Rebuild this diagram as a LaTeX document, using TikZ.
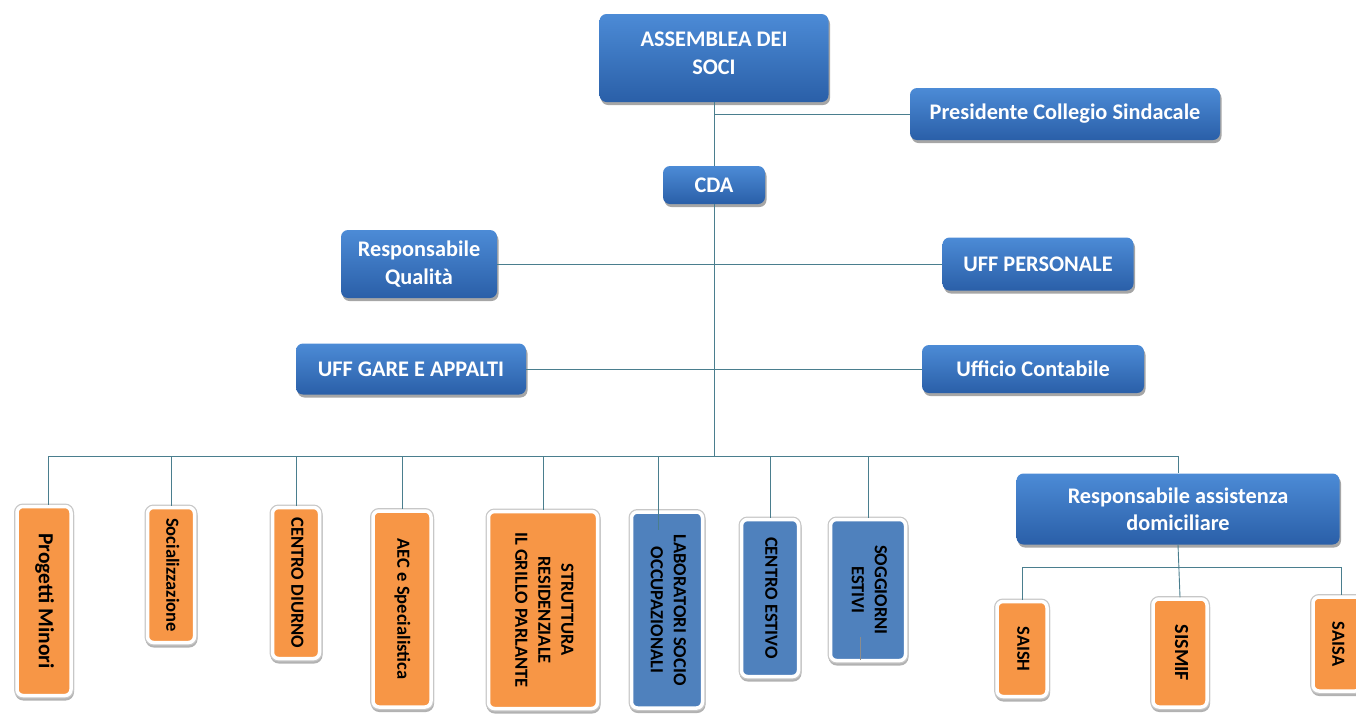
\documentclass[tikz,border=0pt]{standalone}
\usepackage{fontspec}
\usepackage{graphicx}
\setmainfont{Carlito}
\usetikzlibrary{shadows}
\definecolor{linec}{HTML}{4A7E8E}
\definecolor{btop}{HTML}{4C8BD6}
\definecolor{bbot}{HTML}{2A5FA8}
\definecolor{orangebox}{HTML}{F79646}
\definecolor{flatblue}{HTML}{4F81BD}
\newcommand\rottext[1]{\rotatebox{-90}{\begin{tabular}{@{}c@{}}#1\end{tabular}}}
\tikzset{
  topbox/.style={rounded corners=7pt, top color=btop, bottom color=bbot, draw=none,
    text=white, font=\fontsize{22.3}{27.5}\selectfont\bfseries, align=center, inner sep=0pt,
    drop shadow={shadow xshift=1.5pt, shadow yshift=-3pt, opacity=0.35, fill=black}},
  lowbox/.style={rounded corners=6pt, draw=white, line width=3.5pt,
    drop shadow={shadow xshift=0.5pt, shadow yshift=-2.5pt, opacity=0.3, fill=black, draw=black, line width=5pt},
    preaction={draw=black!22, line width=6pt},
    text=black, font=\fontsize{18.5}{23}\selectfont\bfseries, inner sep=0pt},
  obox/.style={lowbox, fill=orangebox},
  fbox/.style={lowbox, fill=flatblue},
  conn/.style={draw=linec, line width=0.9pt},
}
\begin{document}
\begin{tikzpicture}[x=1pt, y=-1pt]
\useasboundingbox (0,0) rectangle (1356,713);
% top level
\node[topbox, minimum width=229pt, minimum height=88pt] (soci) at (714,58) {ASSEMBLEA DEI\\SOCI\\[-18pt]};
\node[topbox, minimum width=310pt, minimum height=52pt] (pres) at (1065,114) {Presidente Collegio Sindacale};
\node[topbox, minimum width=102pt, minimum height=38pt] (cda) at (714,185) {CDA};
\node[topbox, minimum width=156pt, minimum height=68pt] (qual) at (419,264) {Responsabile\\Qualità};
\node[topbox, minimum width=191pt, minimum height=53pt] (pers) at (1038,264) {UFF PERSONALE};
\node[topbox, minimum width=230pt, minimum height=51pt] (gare) at (411,369) {UFF GARE E APPALTI};
\node[topbox, minimum width=222pt, minimum height=48pt] (cont) at (1033,369) {Ufficio Contabile};
\node[topbox, minimum width=323pt, minimum height=71pt] (rad) at (1178,509) {Responsabile assistenza\\domiciliare};
% bottom boxes
\node[obox, minimum width=54pt, minimum height=189pt, font=\fontsize{21.5}{26}\selectfont\bfseries] (pm) at (44,601) {\rottext{Progetti Minori}};
\node[obox, minimum width=47pt, minimum height=135pt] (soc) at (171,575) {\rottext{Socializzazione}};
\node[obox, minimum width=47pt, minimum height=151pt] (cd) at (296,583) {\rottext{CENTRO DIURNO}};
\node[obox, minimum width=58pt, minimum height=196pt] (aec) at (402,609) {\rottext{AEC e Specialistica}};
\node[obox, minimum width=109pt, minimum height=197pt] (str) at (543,610) {\rottext{STRUTTURA\\RESIDENZIALE\\IL GRILLO PARLANTE}};
\node[fbox, minimum width=71pt, minimum height=196pt] (lab) at (667,610) {\rottext{LABORATORI SOCIO\\OCCUPAZIONALI}};
\node[fbox, minimum width=57pt, minimum height=157pt] (ce) at (770,598) {\rottext{CENTRO ESTIVO}};
\node[fbox, minimum width=75pt, minimum height=141pt] (sog) at (868,590) {\rottext{SOGGIORNI\\ESTIVI}};
\node[obox, minimum width=50pt, minimum height=95pt] (saish) at (1022,649) {\rottext{SAISH}};
\node[obox, minimum width=54pt, minimum height=108pt, font=\fontsize{20}{24}\selectfont\bfseries] (sismif) at (1180,653) {\rottext{SISMIF}};
\node[obox, minimum width=48pt, minimum height=94pt] (saisa) at (1337,644) {\rottext{SAISA}};
% connectors
\coordinate (bus) at (714,456);
\coordinate (busL) at (48,456);
\coordinate (labd) at (658,456);
\coordinate (labe) at (658,530);
\coordinate (sbL) at (1022,567);
\coordinate (sbR) at (1341,567);
\coordinate (sogA) at (860,637);
\coordinate (sogB) at (860,660);
\draw[conn] (soci.south) -- (cda.north);
\draw[conn] (pres.west -| soci.south) -- (pres.west);
\draw[conn] (cda.south) -- (bus);
\draw[conn] (qual.east) -- (pers.west);
\draw[conn] (gare.east) -- (cont.west);
\draw[conn] (busL) -- (rad.north |- bus) -- (rad.north);
\draw[conn] (busL) -- (pm.north -| busL);
\draw[conn] (soc.north |- bus) -- (soc.north);
\draw[conn] (cd.north |- bus) -- (cd.north);
\draw[conn] (aec.north |- bus) -- (aec.north);
\draw[conn] (str.north |- bus) -- (str.north);
\draw[conn] (labd) -- (labe);
\draw[conn] (ce.north |- bus) -- (ce.north);
\draw[conn] (sog.north |- bus) -- (sog.north);
\draw[conn] (rad.south) -- (sismif.north);
\draw[conn] (sbL) -- (sbR);
\draw[conn] (sbL) -- (saish.north);
\draw[conn] (sbR) -- (saisa.north -| sbR);
\draw[draw=black!45, line width=1pt] (sogA) -- (sogB);
\end{tikzpicture}
\end{document}
